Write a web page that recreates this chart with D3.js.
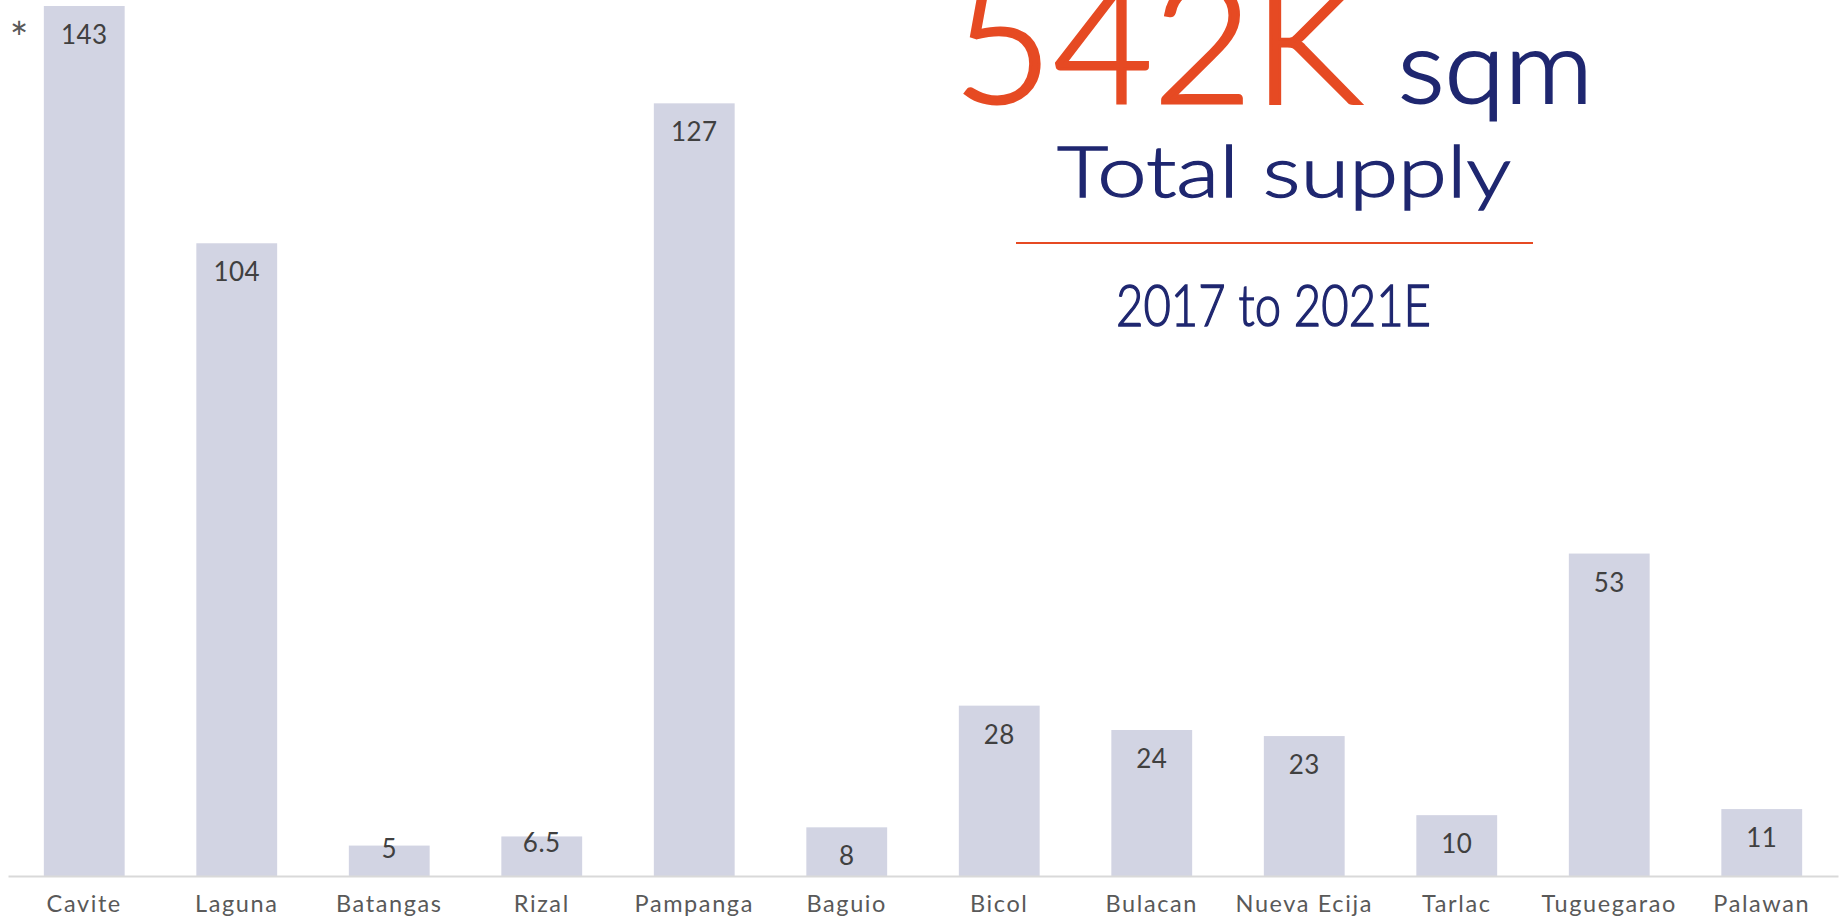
<!DOCTYPE html>
<html>
<head>
<meta charset="utf-8">
<script src="https://cdn.jsdelivr.net/npm/d3@7"></script>
<style>
  html, body { margin: 0; padding: 0; background: #ffffff; }
  svg { display: block; }
  text { font-family: Lato, "Noto Sans", sans-serif; }
</style>
</head>
<body>
<div id="chart"></div>
<script>
// Industrial / warehouse supply by province, thousand sqm
const categories = ["Cavite", "Laguna", "Batangas", "Rizal", "Pampanga", "Baguio",
                    "Bicol", "Bulacan", "Nueva Ecija", "Tarlac", "Tuguegarao", "Palawan"];
const supply = [143, 104, 5, 6.5, 127, 8, 28, 24, 23, 10, 53, 11];
const valueLabels = ["143", "104", "5", "6.5", "127", "8", "28", "24", "23", "10", "53", "11"];

// Headline block
const totalValue = "542K";
const totalUnit = "sqm";
const totalCaption = "Total supply";
const periodCaption = "2017 to 2021E";
const footnoteMark = "*";

const W = 1841, H = 918;
const svg = d3.select("#chart").append("svg")
  .attr("width", W).attr("height", H);

const x = d3.scaleBand()
  .domain(categories)
  .range([8, 1838])
  .paddingInner(0.47)
  .paddingOuter(0.235);

const y = d3.scaleLinear()
  .domain([0, d3.max(supply)])
  .range([876, 6]);

const data = categories.map((c, i) => ({ c, v: supply[i], label: valueLabels[i] }));

// bars
svg.append("g").selectAll("rect").data(data).join("rect")
  .attr("x", d => x(d.c))
  .attr("y", d => y(d.v))
  .attr("width", x.bandwidth())
  .attr("height", d => y(0) - y(d.v))
  .attr("fill", "#d2d4e3");

// value labels, placed inside the top of each bar
svg.append("g").selectAll("text").data(data).join("text")
  .attr("x", d => x(d.c) + x.bandwidth() / 2)
  .attr("y", d => {
    const h = y(0) - y(d.v);
    return h >= 45 ? y(d.v) + 38 : y(d.v) + h * 0.4;
  })
  .attr("text-anchor", "middle")
  .attr("font-size", 26)
  .attr("letter-spacing", 0.5)
  .attr("fill", "#404040")
  .text(d => d.label);

// category axis
const axis = svg.append("g")
  .attr("transform", `translate(0,${y(0)})`)
  .call(d3.axisBottom(x).tickSize(0).tickSizeOuter(0));
axis.select(".domain")
  .attr("stroke", "#d9d9d9")
  .attr("stroke-width", 2);
axis.selectAll(".tick text")
  .attr("y", 36)
  .attr("dy", 0)
  .attr("font-family", "Lato, 'Noto Sans', sans-serif")
  .attr("font-size", 23.5)
  .attr("letter-spacing", 1.6)
  .attr("fill", "#595959");

// footnote marker
svg.append("text")
  .attr("x", 19).attr("y", 54)
  .attr("text-anchor", "middle")
  .attr("font-family", "'DejaVu Sans', sans-serif")
  .attr("font-size", 44)
  .attr("fill", "#595959")
  .text(footnoteMark);

// headline block, glyphs widened to the block's set widths
function headline(str, x0, base, size, width, color, weightStroke) {
  svg.append("text")
    .attr("x", x0).attr("y", base)
    .attr("font-size", size)
    .attr("font-weight", 300)
    .attr("fill", color)
    .attr("stroke", color)
    .attr("stroke-width", weightStroke)
    .attr("textLength", width)
    .attr("lengthAdjust", "spacingAndGlyphs")
    .text(str);
}
headline(totalValue, 953, 103, 168, 409, "#e64a23", 3);
headline(totalUnit, 1398, 103, 100, 195, "#1f2770", 2);
headline(totalCaption, 1057, 197, 70, 454, "#1f2770", 1.3);
headline(periodCaption, 1116, 326, 57, 315, "#1f2770", 1.4);

svg.append("line")
  .attr("x1", 1016).attr("x2", 1533)
  .attr("y1", 243).attr("y2", 243)
  .attr("stroke", "#e64a23")
  .attr("stroke-width", 2);
</script>
</body>
</html>
